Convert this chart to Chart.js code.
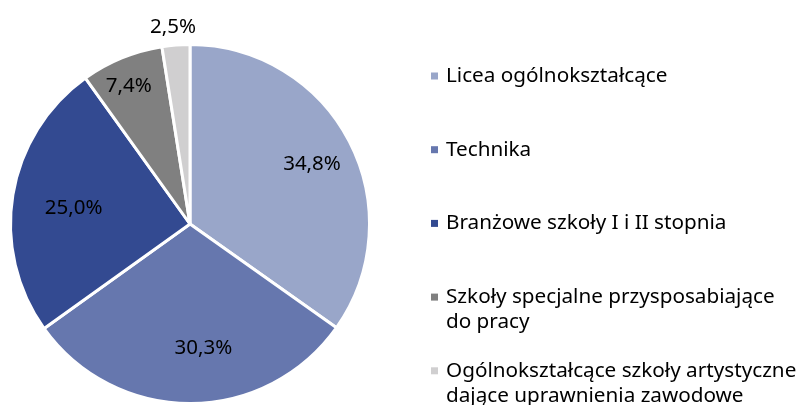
<!DOCTYPE html>
<html>
<head>
<meta charset="utf-8">
<script src="https://cdn.jsdelivr.net/npm/chart.js@4.4.1/dist/chart.umd.min.js"></script>
<style>
  html, body { margin: 0; padding: 0; background: #fff; }
  #wrap { width: 798px; height: 405px; position: relative; }
</style>
</head>
<body>
<div id="wrap"><canvas id="myChart"></canvas></div>
<script>
// udzial typow szkol
const categories = [
  ['Licea ogólnokształcące'],
  ['Technika'],
  ['Branżowe szkoły I i II stopnia'],
  ['Szkoły specjalne przysposabiające', 'do pracy'],
  ['Ogólnokształcące szkoły artystyczne', 'dające uprawnienia zawodowe']
];
const shares = [34.8, 30.3, 25.0, 7.4, 2.5];
const shareLabels = ['34,8%', '30,3%', '25,0%', '7,4%', '2,5%'];

const colors = ['#99A6C9', '#6677AE', '#334A91', '#808080', '#D0CFD0'];
// polozenie etykiet: czesc promienia i przesuniecie kata (stopnie)
const labelPos = [0.76, 0.69, 0.655, 0.845, 1.105];
const labelTurn = [0.8, -6, -1.1, -1.5, -0.4];

const FONT = '"Noto Sans", sans-serif';

// etykiety na wycinkach
const sliceLabels = {
  id: 'sliceLabels',
  afterDatasetsDraw(chart) {
    const c = chart.ctx;
    const arcs = chart.getDatasetMeta(0).data;
    c.save();
    c.font = '20.5px ' + FONT;
    c.fillStyle = '#000';
    c.textAlign = 'center';
    c.textBaseline = 'middle';
    arcs.forEach((arc, i) => {
      const mid = (arc.startAngle + arc.endAngle) / 2 + labelTurn[i] * Math.PI / 180;
      const r = arc.outerRadius * labelPos[i];
      c.fillText(shareLabels[i], arc.x + Math.cos(mid) * r, arc.y + Math.sin(mid) * r + 1);
    });
    c.restore();
  }
};

// legenda po prawej
const sideLegend = {
  id: 'sideLegend',
  afterDraw(chart) {
    const c = chart.ctx;
    c.save();
    c.font = '20.7px ' + FONT;
    c.textBaseline = 'middle';
    c.textAlign = 'left';
    categories.forEach((lines, i) => {
      const y = 76 + i * 73.7;
      c.fillStyle = colors[i];
      c.fillRect(431, y - 3.5, 7, 7);
      c.fillStyle = '#000';
      lines.forEach((t, j) => c.fillText(t, 446, y + j * 25));
    });
    c.restore();
  }
};

const ctx = document.getElementById('myChart');

new Chart(ctx, {
  type: 'pie',
  data: {
    labels: categories.map(l => l.join(' ')),
    datasets: [{
      data: shares,
      backgroundColor: colors,
      borderColor: '#fff',
      borderWidth: 3
    }]
  },
  options: {
    responsive: true,
    maintainAspectRatio: false,
    animation: false,
    layout: {
      padding: { left: 9, top: 43, right: 427, bottom: 0 }
    },
    plugins: {
      legend: { display: false },
      tooltip: { enabled: false }
    }
  },
  plugins: [sliceLabels, sideLegend]
});
// koniec
</script>
</body>
</html>
